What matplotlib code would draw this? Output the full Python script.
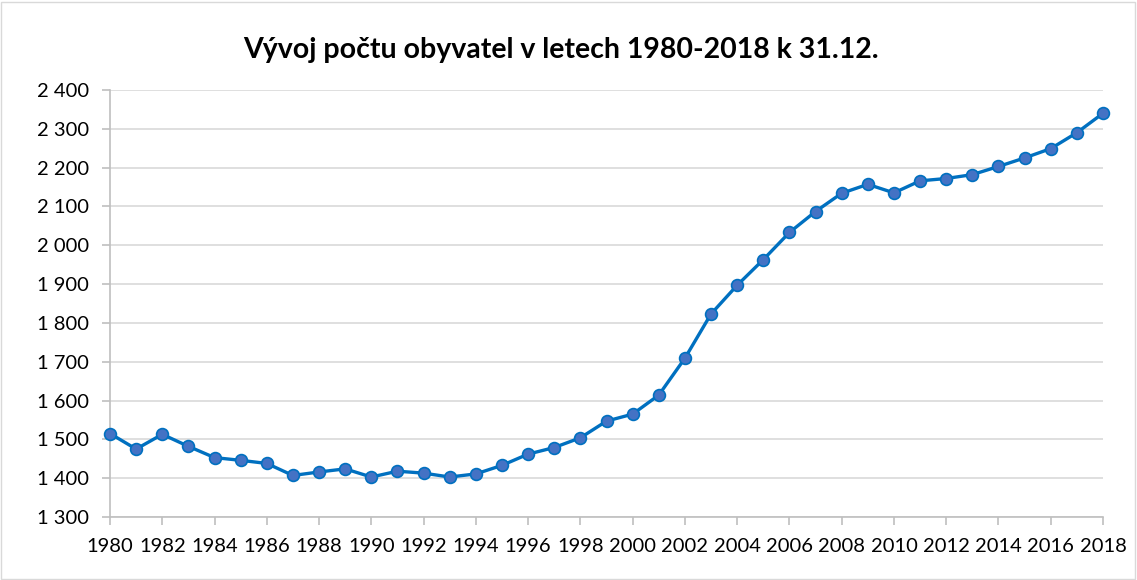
import matplotlib
matplotlib.use("Agg")
from matplotlib import pyplot as plt
from matplotlib.patches import Rectangle
from matplotlib.ticker import FuncFormatter, MultipleLocator

# počet obyvatel k 31.12.
roky = list(range(1980, 2019))
obyvatele = [1515, 1475, 1513, 1482, 1453, 1446, 1438, 1407, 1416, 1424,
             1403, 1418, 1413, 1403, 1411, 1433, 1462, 1479, 1504, 1547,
             1565, 1614, 1709, 1823, 1897, 1963, 2033, 2087, 2134, 2157,
             2135, 2166, 2172, 2182, 2203, 2225, 2249, 2290, 2340]
titulek = "Vývoj počtu obyvatel v letech 1980-2018 k 31.12."

plt.rcParams['font.family'] = ['Lato', 'DejaVu Sans']

fig = plt.figure(figsize=(11.37, 5.80), dpi=100)
ax = fig.add_axes([110 / 1137, 1 - 517 / 580, (1103 - 110) / 1137, (517 - 90) / 580])

ax.plot(roky, obyvatele, color="#0070C0", linewidth=2.4, marker="o",
        markersize=8.5, markerfacecolor="#4472C4", markeredgecolor="#0070C0",
        markeredgewidth=1.2, zorder=3, clip_on=False)

ax.set_xlim(1980, 2018)
ax.set_ylim(1300, 2400)
ax.xaxis.set_major_locator(MultipleLocator(2))
ax.yaxis.set_major_locator(MultipleLocator(100))
ax.yaxis.set_major_formatter(FuncFormatter(lambda v, p: f"{int(v):,}".replace(",", " ")))

ax.grid(axis="y", color="#D9D9D9", linewidth=1.2)
ax.set_axisbelow(True)
for s in ["top", "right"]:
    ax.spines[s].set_visible(False)
for s in ["left", "bottom"]:
    ax.spines[s].set_color("#BFBFBF")
    ax.spines[s].set_linewidth(1.2)
ax.tick_params(axis="both", colors="#BFBFBF", length=6, width=1.2,
               labelsize=14.5, labelcolor="#000000")
ax.tick_params(axis="y", pad=9)
ax.tick_params(axis="x", pad=9)

fig.text(561 / 1137, 1 - 58 / 580, titulek, ha="center", va="baseline",
         fontsize=20.5, fontweight="bold")

fig.patches.append(Rectangle((1 / 1137, 1 / 580), 1 - 3 / 1137, 1 - 3 / 580,
                             transform=fig.transFigure, fill=False,
                             edgecolor="#D9D9D9", linewidth=1))

fig.savefig("out.png", dpi=100)
